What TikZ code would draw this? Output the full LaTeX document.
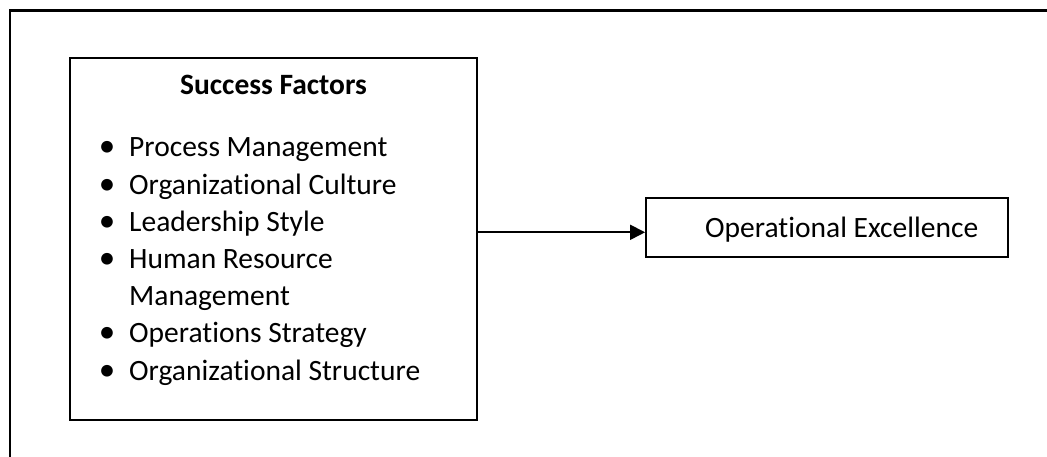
\documentclass[tikz,border=0pt]{standalone}
\usepackage{fontspec}
\setmainfont{Carlito}[Ligatures=NoCommon]
\usetikzlibrary{arrows.meta}
\begin{document}
\begin{tikzpicture}[x=1pt,y=-1pt,
  frame/.style={line width=2.2pt,black},
  boxstyle/.style={draw,line width=1.8pt,inner sep=0pt},
  itemtext/.style={anchor=base west,inner sep=0pt,font=\fontsize{29.5}{35}\selectfont},
  bul/.style={anchor=base,inner sep=0pt,font=\fontsize{33}{35}\selectfont},
  conn/.style={line width=1.8pt,-{Triangle[length=15pt,width=15pt]}}]
\useasboundingbox (0,0) rectangle (1047,457);
% outer frame (top and left edges)
\coordinate (fbl) at (10,460);
\coordinate (ftl) at (10,10.5);
\coordinate (ftr) at (1050,10.5);
\draw[frame] (fbl) -- (ftl) -- (ftr);
% left box
\node[boxstyle,minimum width=407pt,minimum height=362pt] (lb) at (273.5,239) {};
\node[anchor=base,inner sep=0pt,font=\fontsize{29.5}{35}\selectfont\bfseries] (title) at (273.5,95) {Success Factors};
\foreach \y/\t/\b [count=\i] in {156.7/Process Management/1,195/Organizational Culture/1,231.7/Leadership Style/1,268.5/Human Resource/1,305/Management/0,342/Operations Strategy/1,380/Organizational Structure/1}{
  \node[itemtext] (it\i) at (129,\y) {\t};
  \ifnum\b=1 \node[bul] (b\i) at (107,\y) {•};\fi
}
% right box
\node[boxstyle,minimum width=362pt,minimum height=59pt] (rb) at (827,227.5) {};
\node[itemtext] (oe) at (705,237) {Operational Excellence};
% connector
\coordinate (as) at (lb.east |- 0,232.3);
\draw[conn] (as) -- (rb.west |- as);
\end{tikzpicture}
\end{document}
